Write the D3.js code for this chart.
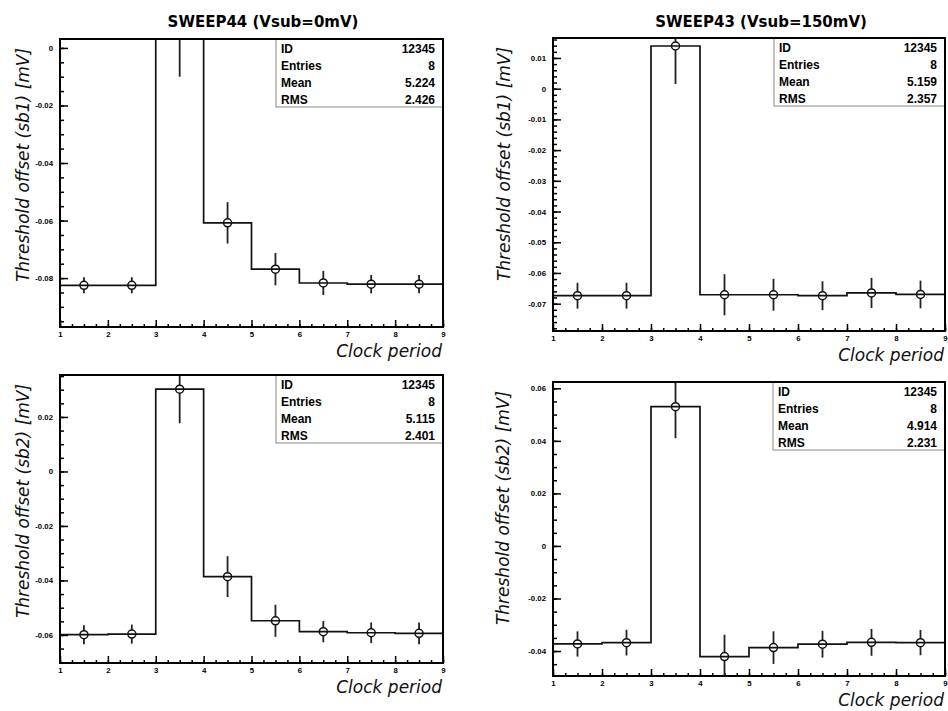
<!DOCTYPE html>
<html>
<head>
<meta charset="utf-8">
<script src="https://cdn.jsdelivr.net/npm/d3@7"></script>
<style>
  body { margin: 0; background: #fff; }
  svg { color: #000; }
  .tick text { font-family: "Liberation Sans", Arial, sans-serif; font-weight: bold; font-size: 7.8px; fill: #000; }
  .tick line { stroke: #000; stroke-width: 1.5; }
  .axtitle { font-family: "DejaVu Sans", sans-serif; font-style: italic; font-size: 17px; fill: #111; }
</style>
</head>
<body>
<svg id="chart" width="948" height="711"></svg>
<script>
// bin edges of clock period histogram
const binEdges = [1, 2, 3, 4, 5, 6, 7, 8, 9];
const xTicks = [1, 2, 3, 4, 5, 6, 7, 8, 9];

// SWEEP44 (Vsub=0mV)
const sweep44Sb1 = [-0.0825, -0.0825, 0.0045, -0.0608, -0.0769, -0.0817, -0.0821, -0.0821];
const sweep44Sb1Err = [0.0028, 0.0028, 0.0145, 0.0072, 0.0056, 0.0042, 0.0032, 0.0032];
const sweep44Sb2 = [-0.0599, -0.0597, 0.0302, -0.0386, -0.0548, -0.0588, -0.0592, -0.0594];
const sweep44Sb2Err = [0.0035, 0.0035, 0.0125, 0.0075, 0.0059, 0.0039, 0.0038, 0.0040];

// SWEEP43 (Vsub=150mV)
const sweep43Sb1 = [-0.0674, -0.0674, 0.0139, -0.0671, -0.0671, -0.0674, -0.0665, -0.0670];
const sweep43Sb1Err = [0.0042, 0.0042, 0.0124, 0.0067, 0.0052, 0.0047, 0.0049, 0.0045];
const sweep43Sb2 = [-0.0373, -0.0368, 0.0530, -0.0421, -0.0387, -0.0374, -0.0367, -0.0368];
const sweep43Sb2Err = [0.0048, 0.0049, 0.0120, 0.0083, 0.0062, 0.0051, 0.0051, 0.0048];

// stats box rows
const statLabels = ['ID', 'Entries', 'Mean', 'RMS'];
const stats44Sb1 = ['12345', '8', '5.224', '2.426'];
const stats43Sb1 = ['12345', '8', '5.159', '2.357'];
const stats44Sb2 = ['12345', '8', '5.115', '2.401'];
const stats43Sb2 = ['12345', '8', '4.914', '2.231'];

const titles = ['SWEEP44 (Vsub=0mV)', 'SWEEP43 (Vsub=150mV)'];

const svg = d3.select('#chart');

const fmt = d => String(Math.round(d * 1000) / 1000);

function drawPanel(p, idx) {
  const x = d3.scaleLinear().domain([1, 9]).range([p.left, p.right]);
  const y = d3.scaleLinear().domain(p.yDomain).range([p.bottom, p.top]);
  const g = svg.append('g');

  g.append('clipPath').attr('id', 'clip' + idx)
    .append('rect')
    .attr('x', p.left).attr('y', p.top)
    .attr('width', p.right - p.left).attr('height', p.bottom - p.top);

  // y axis - ticks point inside
  const majorY = d3.range(p.yMajor[0], p.yMajor[1] + 1e-9, p.yMajor[2]);
  const minorY = d3.range(p.yMinor[0], p.yMinor[1] + 1e-9, p.yMinor[2]);
  g.append('g').attr('transform', `translate(${p.left},0)`)
    .call(d3.axisLeft(y).tickValues(minorY).tickSize(-4).tickFormat(''))
    .call(a => a.select('.domain').remove());
  g.append('g').attr('transform', `translate(${p.left},0)`)
    .call(d3.axisLeft(y).tickValues(majorY).tickSize(-8).tickPadding(7).tickFormat(fmt))
    .call(a => a.select('.domain').remove());

  // x axis
  const minorX = d3.range(1, 9.0001, 0.25);
  g.append('g').attr('transform', `translate(0,${p.bottom})`)
    .call(d3.axisBottom(x).tickValues(minorX).tickSize(-3).tickFormat(''))
    .call(a => a.select('.domain').remove());
  g.append('g').attr('transform', `translate(0,${p.bottom})`)
    .call(d3.axisBottom(x).tickValues(xTicks).tickSize(-7).tickPadding(4).tickFormat(d3.format('d')))
    .call(a => a.select('.domain').remove());

  const plot = g.append('g').attr('clip-path', `url(#clip${idx})`);

  // histogram outline
  const pts = binEdges.map((e, i) => [e, p.values[Math.min(i, p.values.length - 1)]]);
  plot.append('path')
    .attr('d', d3.line().x(d => x(d[0])).y(d => y(d[1])).curve(d3.curveStepAfter)(pts))
    .attr('fill', 'none').attr('stroke', '#111').attr('stroke-width', 1.7);

  // error bars + markers
  const r = 4;
  p.values.forEach((v, i) => {
    const cx = x((binEdges[i] + binEdges[i + 1]) / 2);
    const cy = y(v);
    plot.append('line').attr('x1', cx).attr('x2', cx)
      .attr('y1', y(v + p.errors[i])).attr('y2', cy - r)
      .attr('stroke', '#222').attr('stroke-width', 1.8);
    plot.append('line').attr('x1', cx).attr('x2', cx)
      .attr('y1', cy + r).attr('y2', y(v - p.errors[i]))
      .attr('stroke', '#222').attr('stroke-width', 1.8);
    plot.append('circle').attr('cx', cx).attr('cy', cy).attr('r', r)
      .attr('fill', 'none').attr('stroke', '#111').attr('stroke-width', 1.5);
  });

  // stats box
  const bw = p.statsLeft;
  const rowH = 17;
  g.append('rect')
    .attr('x', bw).attr('y', p.top)
    .attr('width', p.right - bw).attr('height', rowH * 4)
    .attr('fill', '#fff').attr('stroke', '#888').attr('stroke-width', 1);
  statLabels.forEach((lab, i) => {
    const ty = p.top + rowH * i + 13.5;
    g.append('text').attr('x', bw + 5).attr('y', ty).text(lab)
      .style('font-family', '"Liberation Sans", Arial, sans-serif')
      .style('font-weight', 'bold').style('font-size', '12px');
    g.append('text').attr('x', p.right - 8).attr('y', ty).text(p.stats[i])
      .attr('text-anchor', 'end')
      .style('font-family', '"Liberation Sans", Arial, sans-serif')
      .style('font-weight', 'bold').style('font-size', '12px');
  });

  // frame
  g.append('rect')
    .attr('x', p.left).attr('y', p.top)
    .attr('width', p.right - p.left).attr('height', p.bottom - p.top)
    .attr('fill', 'none').attr('stroke', '#000').attr('stroke-width', 2);

  // axis titles
  g.append('text').attr('class', 'axtitle')
    .attr('transform', `translate(${p.titleX},${p.top + 126}) rotate(-90)`)
    .attr('text-anchor', 'middle')
    .text(p.yTitle);
  g.append('text').attr('class', 'axtitle')
    .attr('x', p.right - 1).attr('y', p.bottom + 30)
    .attr('text-anchor', 'end')
    .text('Clock period');
}

const panels = [
  { left: 60, right: 443, top: 39, bottom: 327, yDomain: [-0.0970, 0.0031],
    yMajor: [-0.08, 0, 0.02], yMinor: [-0.095, 0, 0.005],
    values: sweep44Sb1, errors: sweep44Sb1Err, stats: stats44Sb1, statsLeft: 276,
    yTitle: 'Threshold offset (sb1) [mV]', titleX: 29 },
  { left: 553, right: 945, top: 38, bottom: 331, yDomain: [-0.0789, 0.0165],
    yMajor: [-0.07, 0.01, 0.01], yMinor: [-0.078, 0.016, 0.002],
    values: sweep43Sb1, errors: sweep43Sb1Err, stats: stats43Sb1, statsLeft: 774,
    yTitle: 'Threshold offset (sb1) [mV]', titleX: 510 },
  { left: 60, right: 443, top: 375, bottom: 663, yDomain: [-0.0703, 0.0354],
    yMajor: [-0.06, 0.02, 0.02], yMinor: [-0.07, 0.035, 0.005],
    values: sweep44Sb2, errors: sweep44Sb2Err, stats: stats44Sb2, statsLeft: 276,
    yTitle: 'Threshold offset (sb2) [mV]', titleX: 29 },
  { left: 553, right: 945, top: 382, bottom: 676, yDomain: [-0.0495, 0.0624],
    yMajor: [-0.04, 0.06, 0.02], yMinor: [-0.045, 0.06, 0.005],
    values: sweep43Sb2, errors: sweep43Sb2Err, stats: stats43Sb2, statsLeft: 773,
    yTitle: 'Threshold offset (sb2) [mV]', titleX: 509 }
];

panels.forEach(drawPanel);

// column titles
[263, 761].forEach((cx, i) => {
  svg.append('text').attr('x', cx).attr('y', 27)
    .attr('text-anchor', 'middle')
    .style('font-family', '"DejaVu Sans", sans-serif').style('font-weight', 'bold')
    .style('font-size', '15px')
    .text(titles[i]);
});
</script>
</body>
</html>
